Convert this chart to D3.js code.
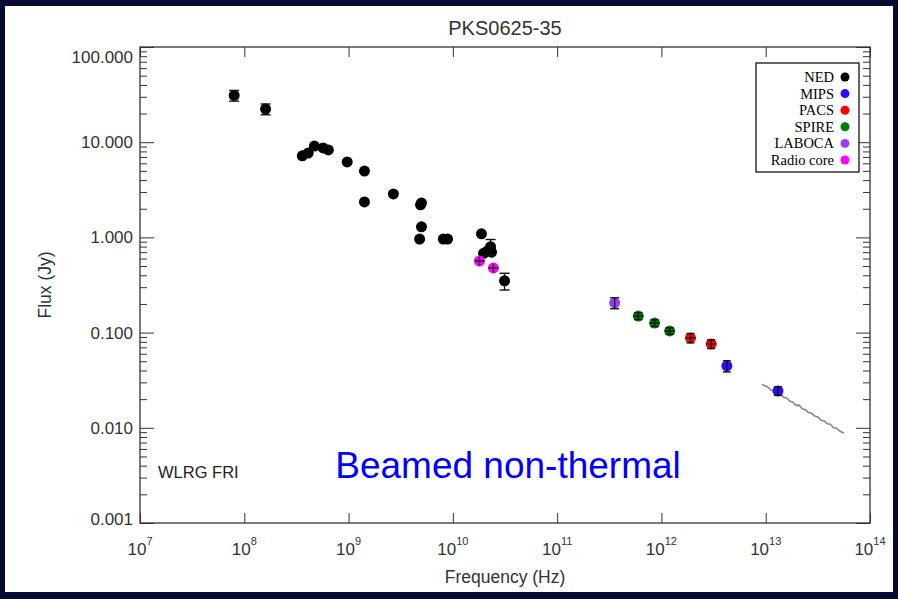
<!DOCTYPE html>
<html><head><meta charset="utf-8">
<script src="https://cdn.jsdelivr.net/npm/d3@7"></script>
<style>html,body{margin:0;padding:0;background:#060a2e;}svg{display:block;}</style>
</head><body>
<script>
// ---------- data ----------
const nedFreq = [8.0e7, 1.6e8, 3.6e8, 4.1e8, 4.7e8, 5.7e8, 6.4e8, 9.7e8, 1.42e9, 1.42e9, 2.69e9, 4.9e9, 5.0e9, 5.0e9, 4.8e9, 8.1e9, 8.9e9, 1.88e10, 1.97e10, 2.15e10, 2.3e10, 2.35e10, 3.13e10];
const nedFlux = [31, 22.3, 7.2, 7.7, 9.1, 8.7, 8.3, 6.2, 4.98, 2.36, 2.86, 2.2, 2.3, 1.29, 0.96, 0.96, 0.96, 1.09, 0.68, 0.72, 0.80, 0.70, 0.35];
const nedErr  = [4, 2.9, 0, 0, 0, 0, 0, 0, 0, 0, 0, 0, 0, 0, 0, 0, 0, 0, 0, 0, 0.15, 0, 0.07];

const radioFreq = [1.8e10, 2.45e10];
const radioFlux = [0.565, 0.478];
const radioErr  = [0.06, 0.05];

const labocaFreq = [3.56e11];
const labocaFlux = [0.205];
const labocaErr  = [0.027];

const spireFreq = [6.0e11, 8.6e11, 1.2e12];
const spireFlux = [0.149, 0.126, 0.104];
const spireErr  = [0.012, 0.010, 0.008];

const pacsFreq = [1.9e12, 3.0e12];
const pacsFlux = [0.088, 0.076];
const pacsErr  = [0.010, 0.008];

const mipsFreq = [4.24e12, 1.31e13];
const mipsFlux = [0.0446, 0.0244];
const mipsErr  = [0.006, 0.0025];

// IRS spectrum (frequency in units of 1e12 Hz, flux in Jy)
const irsFreq = [9.18, 9.77, 10.47, 11.22, 12.02, 12.88, 13.80, 14.79, 15.85, 16.98, 18.20, 19.50, 20.89, 22.39, 23.99, 25.70, 27.54, 29.51, 31.62, 33.88, 36.31, 38.90, 41.69, 44.67, 47.86, 51.29, 56.36];
const irsFlux = [0.0288, 0.0276, 0.0268, 0.0249, 0.0243, 0.0226, 0.0230, 0.0209, 0.0206, 0.0191, 0.0186, 0.0172, 0.0173, 0.0158, 0.0155, 0.0145, 0.0142, 0.0133, 0.0130, 0.0120, 0.0118, 0.0110, 0.0109, 0.0100, 0.0099, 0.00925, 0.00875];

const xDecades = [1e7, 1e8, 1e9, 1e10, 1e11, 1e12, 1e13, 1e14];
const xExponents = ["7", "8", "9", "10", "11", "12", "13", "14"];
const yTicks = [100, 10, 1, 0.1, 0.01, 0.001];
const yTickLabels = ["100.000", "10.000", "1.000", "0.100", "0.010", "0.001"];

const legendNames = ["NED", "MIPS", "PACS", "SPIRE", "LABOCA", "Radio core"];
const legendColors = ["#000000", "#2a0cff", "#ff0000", "#008000", "#9a3cff", "#ff00ff"];

// ---------- drawing ----------
const W = 898, H = 599;
const svg = d3.select("body").append("svg").attr("width", W).attr("height", H);
svg.append("rect").attr("width", W).attr("height", H).attr("fill", "#060a2e");
svg.append("rect").attr("x", 5).attr("y", 6).attr("width", 888).attr("height", 586).attr("fill", "#ffffff");

const L = 140, R = 870, T = 47, B = 523;
const x = d3.scaleLog().domain([1e7, 1e14]).range([L, R]);
const y = d3.scaleLog().domain([0.001, 100]).range([B, T]);

const axisColor = "#333";
const font = "'Liberation Sans', Arial, Helvetica, sans-serif";

// minor y values
const yMinor = [];
[0.001, 0.01, 0.1, 1, 10].forEach(d => { for (let k = 2; k <= 9; k++) yMinor.push(d * k); });

function styleAxis(g) {
  g.select(".domain").remove();
  g.selectAll("line").attr("stroke", axisColor).attr("stroke-width", 1);
  g.selectAll("text").remove();
}
svg.append("g").attr("transform", `translate(0,${B})`)
  .call(d3.axisBottom(x).tickValues(xDecades).tickSize(-10).tickSizeOuter(0)).call(styleAxis);
svg.append("g").attr("transform", `translate(0,${T})`)
  .call(d3.axisTop(x).tickValues(xDecades).tickSize(-10).tickSizeOuter(0)).call(styleAxis);
svg.append("g").attr("transform", `translate(${L},0)`)
  .call(d3.axisLeft(y).tickValues(yTicks).tickSize(-14).tickSizeOuter(0)).call(styleAxis);
svg.append("g").attr("transform", `translate(${L},0)`)
  .call(d3.axisLeft(y).tickValues(yMinor).tickSize(-7).tickSizeOuter(0)).call(styleAxis);
svg.append("g").attr("transform", `translate(${R},0)`)
  .call(d3.axisRight(y).tickValues(yTicks).tickSize(-14).tickSizeOuter(0)).call(styleAxis);
svg.append("g").attr("transform", `translate(${R},0)`)
  .call(d3.axisRight(y).tickValues(yMinor).tickSize(-7).tickSizeOuter(0)).call(styleAxis);

svg.append("rect").attr("x", L).attr("y", T).attr("width", R - L).attr("height", B - T)
  .attr("fill", "none").attr("stroke", axisColor).attr("stroke-width", 1.3);

// y tick labels
svg.append("g").selectAll("text").data(yTicks).join("text")
  .attr("x", L - 7)
  .attr("y", (d, i) => i === 0 ? y(d) + 16 : (i === yTicks.length - 1 ? y(d) + 2 : y(d) + 6))
  .attr("text-anchor", "end").attr("font-family", font).attr("font-size", 17).attr("fill", "#333")
  .text((d, i) => yTickLabels[i]);

// x tick labels
const xl = svg.append("g").selectAll("text").data(xDecades).join("text")
  .attr("x", d => x(d)).attr("y", 555).attr("text-anchor", "middle")
  .attr("font-family", font).attr("font-size", 17).attr("fill", "#333");
xl.append("tspan").text("10");
xl.append("tspan").attr("dy", -10).attr("font-size", 11).text((d, i) => xExponents[i]);

// titles
svg.append("text").attr("x", (L + R) / 2).attr("y", 35).attr("text-anchor", "middle")
  .attr("font-family", font).attr("font-size", 20).attr("fill", "#333").text("PKS0625-35");
svg.append("text").attr("x", (L + R) / 2).attr("y", 583).attr("text-anchor", "middle")
  .attr("font-family", font).attr("font-size", 17.5).attr("fill", "#333").text("Frequency (Hz)");
svg.append("text").attr("transform", `translate(51,${(T + B) / 2}) rotate(-90)`).attr("text-anchor", "middle")
  .attr("font-family", font).attr("font-size", 17.5).attr("fill", "#333").text("Flux (Jy)");

svg.append("text").attr("x", 158).attr("y", 478).attr("font-family", font).attr("font-size", 16.5)
  .attr("fill", "#222").text("WLRG FRI");
svg.append("text").attr("x", 508).attr("y", 478).attr("text-anchor", "middle").attr("font-family", font)
  .attr("font-size", 37).attr("fill", "#0000ff").text("Beamed non-thermal");

// spectrum
const irs = irsFreq.map((f, i) => [f * 1e12, irsFlux[i]]);
svg.append("path").datum(irs)
  .attr("d", d3.line().x(d => x(d[0])).y(d => y(d[1])))
  .attr("fill", "none").attr("stroke", "#888").attr("stroke-width", 1.6);

function series(freq, flux, err, color, cap, plus) {
  const data = freq.map((f, i) => ({ f, v: flux[i], e: err[i] }));
  const g = svg.append("g");
  g.selectAll("circle").data(data).join("circle")
    .attr("cx", d => x(d.f)).attr("cy", d => y(d.v)).attr("r", 5.5).attr("fill", color);
  const eb = data.filter(d => d.e > 0);
  const gb = g.append("g").attr("stroke", "#111").attr("stroke-width", 1.4);
  gb.selectAll(".v").data(eb).join("line")
    .attr("x1", d => x(d.f)).attr("x2", d => x(d.f))
    .attr("y1", d => y(d.v + d.e)).attr("y2", d => y(d.v - d.e));
  gb.selectAll(".ct").data(eb).join("line")
    .attr("x1", d => x(d.f) - cap).attr("x2", d => x(d.f) + cap)
    .attr("y1", d => y(d.v + d.e)).attr("y2", d => y(d.v + d.e));
  gb.selectAll(".cb").data(eb).join("line")
    .attr("x1", d => x(d.f) - cap).attr("x2", d => x(d.f) + cap)
    .attr("y1", d => y(d.v - d.e)).attr("y2", d => y(d.v - d.e));
  if (plus) {
    gb.selectAll(".h").data(eb).join("line")
      .attr("x1", d => x(d.f) - 5).attr("x2", d => x(d.f) + 5)
      .attr("y1", d => y(d.v)).attr("y2", d => y(d.v));
  }
}
series(nedFreq, nedFlux, nedErr, legendColors[0], 5, false);
series(radioFreq, radioFlux, radioErr, legendColors[5], 0, true);
series(labocaFreq, labocaFlux, labocaErr, legendColors[4], 4.5, false);
series(spireFreq, spireFlux, spireErr, legendColors[3], 4, true);
series(pacsFreq, pacsFlux, pacsErr, legendColors[2], 4, true);
series(mipsFreq, mipsFlux, mipsErr, legendColors[1], 4, false);

// legend
const lg = svg.append("g");
lg.append("rect").attr("x", 756).attr("y", 63).attr("width", 103).attr("height", 109)
  .attr("fill", "#fff").attr("stroke", "#000").attr("stroke-width", 1.2);
const rows = lg.selectAll("g.row").data(legendNames).join("g").attr("class", "row")
  .attr("transform", (d, i) => `translate(0,${77 + i * 16.6})`);
rows.append("text").attr("x", 834).attr("y", 5).attr("text-anchor", "end")
  .attr("font-family", "'Liberation Serif', 'Times New Roman', serif").attr("font-size", 14.5)
  .attr("fill", "#000").text(d => d);
rows.append("circle").attr("cx", 845).attr("cy", 0).attr("r", 4.5).attr("fill", (d, i) => legendColors[i]);
</script>
</body></html>
